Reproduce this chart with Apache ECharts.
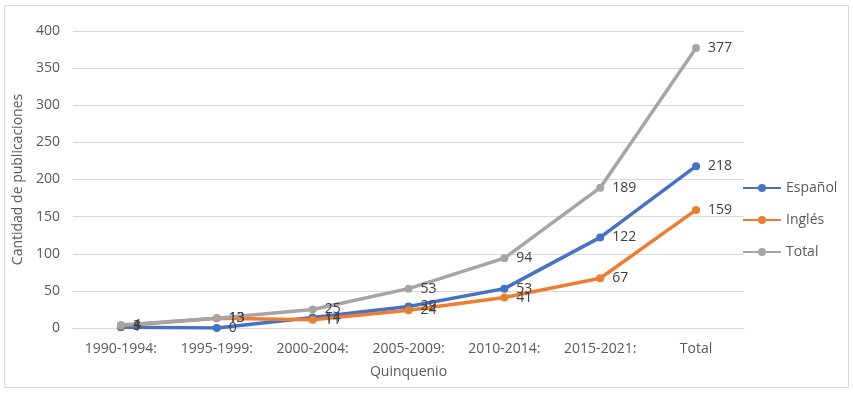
<!DOCTYPE html>
<html>
<head>
<meta charset="utf-8">
<script src="https://cdn.jsdelivr.net/npm/echarts@6/dist/echarts.min.js"></script>
<style>
  html, body { margin: 0; padding: 0; background: #fff; }
  #chart { width: 853px; height: 394px; }
</style>
</head>
<body>
<div id="chart"></div>
<script>
// quinquenios
const categories = ['1990-1994:', '1995-1999:', '2000-2004:', '2005-2009:', '2010-2014:', '2015-2021:', 'Total']
const espanol = [1, 0, 14, 29, 53, 122, 218]
const ingles = [3, 13, 11, 24, 41, 67, 159]
const total = [4, 13, 25, 53, 94, 189, 377]

const FONT = '"Open Sans", Lato, sans-serif'
const TXT = '#595959'

function lineSeries(name, data, color) {
  return {
    name,
    type: 'line',
    data,
    symbol: 'circle',
    symbolSize: 8,
    lineStyle: { width: 3.5, color },
    itemStyle: { color },
    label: {
      show: true,
      position: 'right',
      distance: 8,
      color: '#404040',
      fontSize: 14,
      fontFamily: FONT,
    },
  }
}

const chart = echarts.init(document.getElementById('chart'))
chart.setOption({
  animation: false,
  textStyle: { fontFamily: FONT },
  graphic: [{
    type: 'rect',
    shape: { x: 4.5, y: 5.5, width: 844, height: 382 },
    style: { fill: 'none', stroke: '#d9d9d9', lineWidth: 1 },
  }],
  grid: { left: 73, right: 109, top: 31, bottom: 66 },
  legend: {
    orient: 'vertical',
    left: 742,
    top: 181,
    padding: 0,
    itemWidth: 38,
    itemHeight: 10,
    itemGap: 18,
    textStyle: { color: TXT, fontSize: 14, fontFamily: FONT },
    data: ['Español', 'Inglés', 'Total'],
  },
  xAxis: {
    type: 'category',
    data: categories,
    name: 'Quinquenio',
    nameLocation: 'middle',
    nameGap: 37,
    nameTextStyle: { color: TXT, fontSize: 14, fontFamily: FONT },
    axisLine: { lineStyle: { color: '#d9d9d9' } },
    axisTick: { show: false },
    axisLabel: { color: TXT, fontSize: 14, margin: 14, fontFamily: FONT },
  },
  yAxis: {
    type: 'value',
    min: 0,
    max: 400,
    interval: 50,
    name: 'Cantidad de publicaciones',
    nameLocation: 'middle',
    nameGap: 44,
    nameTextStyle: { color: TXT, fontSize: 14, fontFamily: FONT },
    axisLine: { show: false },
    axisTick: { show: false },
    axisLabel: { color: TXT, fontSize: 14, margin: 13, fontFamily: FONT },
    splitLine: { lineStyle: { color: '#d9d9d9' } },
  },
  series: [
    lineSeries('Español', espanol, '#4472C4'),
    lineSeries('Inglés', ingles, '#ED7D31'),
    lineSeries('Total', total, '#A5A5A5'),
  ],
})
</script>
</body>
</html>
